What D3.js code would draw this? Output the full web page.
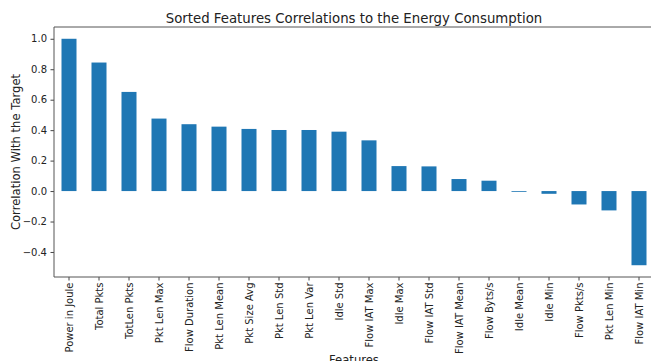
<!DOCTYPE html>
<html>
<head>
<meta charset="utf-8">
<script src="https://cdn.jsdelivr.net/npm/d3@7"></script>
<style>
  html, body { margin: 0; padding: 0; background: #fff; }
  svg { display: block; }
  text { font-family: "DejaVu Sans", sans-serif; fill: #222; }
</style>
</head>
<body>
<div id="chart"></div>
<script>
// Feature names, sorted by correlation with energy consumption
const features = [
  "Power in Joule", "Total Pkts", "TotLen Pkts", "Pkt Len Max", "Flow Duration",
  "Pkt Len Mean", "Pkt Size Avg", "Pkt Len Std", "Pkt Len Var", "Idle Std",
  "Flow IAT Max", "Idle Max", "Flow IAT Std", "Flow IAT Mean", "Flow Byts/s",
  "Idle Mean", "Idle Min", "Flow Pkts/s", "Pkt Len Min", "Flow IAT Min"
];
// Correlation of each feature with the target
const correlations = [
  1.0, 0.844, 0.651, 0.476, 0.439,
  0.423, 0.408, 0.401, 0.401, 0.39,
  0.333, 0.164, 0.162, 0.079, 0.068,
  -0.004, -0.018, -0.088, -0.127, -0.487
];
const yTicks = [-0.4, -0.2, 0.0, 0.2, 0.4, 0.6, 0.8, 1.0];

const chartTitle = "Sorted Features Correlations to the Energy Consumption";
const xTitle = "Features";
const yTitle = "Correlation With the Target";

const W = 651, H = 361;
const margin = { top: 27, right: -3, bottom: 84, left: 54 };
const plotW = W - margin.left - margin.right;
const plotH = H - margin.top - margin.bottom;

const svg = d3.select("#chart").append("svg")
  .attr("width", W).attr("height", H);

const g = svg.append("g")
  .attr("transform", `translate(${margin.left},${margin.top})`);

// Band scale: bars take half of each slot (pandas default width 0.5)
const x = d3.scaleBand()
  .domain(features)
  .range([0, plotW])
  .paddingInner(0.5)
  .paddingOuter(0.25);

// y domain padded on both sides by a small share of the data span
const lo = d3.min(correlations), hi = d3.max(correlations);
const pad = (hi - lo) * 0.052;
const y = d3.scaleLinear()
  .domain([lo - pad, hi + pad])
  .range([plotH, 0]);

// Bars
g.selectAll("rect.bar")
  .data(features.map((f, i) => ({ f, v: correlations[i] })))
  .join("rect")
  .attr("class", "bar")
  .attr("x", d => x(d.f))
  .attr("width", x.bandwidth())
  .attr("y", d => y(Math.max(0, d.v)))
  .attr("height", d => Math.max(0.8, Math.abs(y(d.v) - y(0))))
  .attr("fill", "#1f77b4");

// Y axis
const yAxis = g.append("g")
  .call(d3.axisLeft(y).tickValues(yTicks)
    .tickFormat(d => d < 0 ? "\u2212" + Math.abs(d).toFixed(1) : d.toFixed(1))
    .tickSize(3.5).tickPadding(3.5));
yAxis.select(".domain").remove();
yAxis.selectAll("line").attr("stroke", "#444");
yAxis.selectAll("text").style("font-size", "10px").attr("fill", "#222");

// X axis
const xAxis = g.append("g")
  .attr("transform", `translate(0,${plotH})`)
  .call(d3.axisBottom(x).tickSize(3.5).tickPadding(3.5));
xAxis.select(".domain").remove();
xAxis.selectAll("line").attr("stroke", "#444");
xAxis.selectAll("text")
  .style("font-size", "10px")
  .attr("fill", "#222")
  .attr("transform", "rotate(-90)")
  .attr("text-anchor", "end")
  .attr("dy", "0.35em")
  .attr("x", -5.5)
  .attr("y", 0);

// Spines: left, top, bottom
const spine = "#555";
g.append("line").attr("x1", 0).attr("x2", 0).attr("y1", 0).attr("y2", plotH)
  .attr("stroke", spine);
g.append("line").attr("x1", 0).attr("x2", plotW).attr("y1", 0).attr("y2", 0)
  .attr("stroke", spine);
g.append("line").attr("x1", 0).attr("x2", plotW).attr("y1", plotH).attr("y2", plotH)
  .attr("stroke", spine);

// Title and axis labels
svg.append("text")
  .attr("x", margin.left + plotW / 2).attr("y", 23)
  .attr("text-anchor", "middle")
  .style("font-size", "13.3px")
  .text(chartTitle);

svg.append("text")
  .attr("transform", `translate(20,${margin.top + plotH / 2}) rotate(-90)`)
  .attr("text-anchor", "middle")
  .style("font-size", "11.6px")
  .text(yTitle);

svg.append("text")
  .attr("x", margin.left + plotW / 2).attr("y", 364)
  .attr("text-anchor", "middle")
  .style("font-size", "11.6px")
  .text(xTitle);
</script>
</body>
</html>
